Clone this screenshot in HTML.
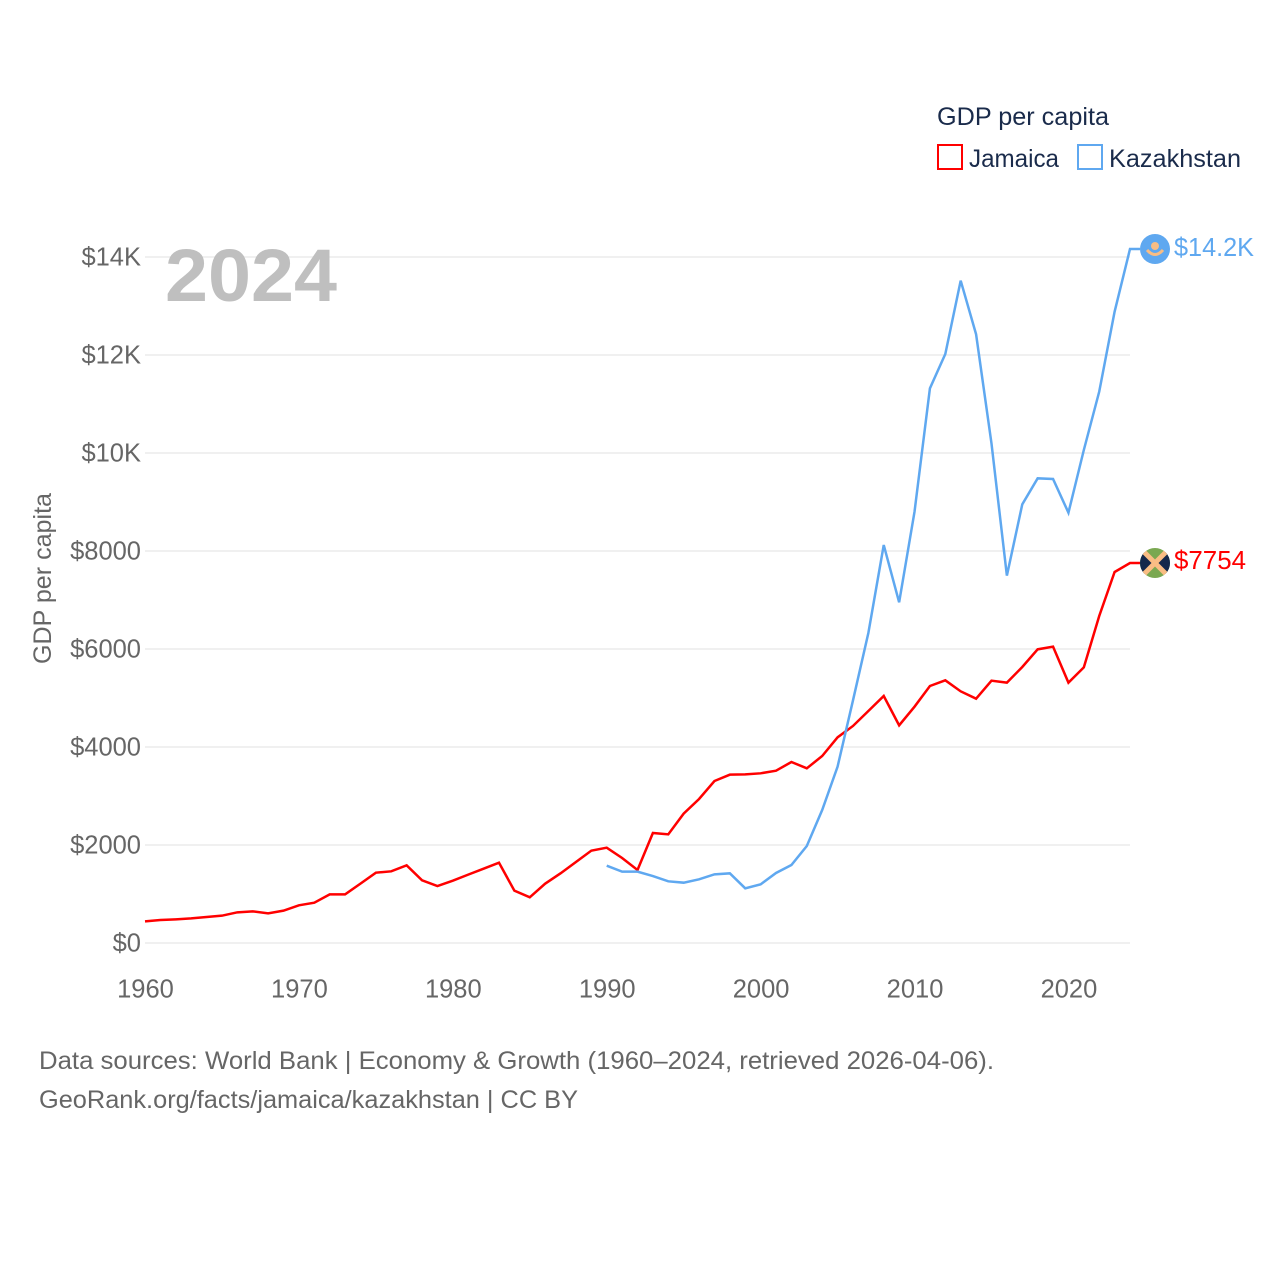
<!DOCTYPE html>
<html lang="en">
<head>
<meta charset="utf-8">
<title>GDP per capita: Jamaica and Kazakhstan</title>
<style>
html,body{margin:0;padding:0;background:#fff;width:1280px;height:1280px;overflow:hidden}
svg{display:block}
text{font-family:"Liberation Sans",sans-serif}
</style>
</head>
<body>
<svg id="chart" width="1280" height="1280" viewBox="0 0 1280 1280" xmlns="http://www.w3.org/2000/svg">
  <rect x="0" y="0" width="1280" height="1280" fill="#ffffff"/>
  <g id="grid"></g>
  <g id="yticks"></g>
  <g id="xticks"></g>
  <text x="165" y="301" font-size="74" font-weight="700" fill="#bfbfbf" textLength="172" lengthAdjust="spacingAndGlyphs">2024</text>
  <text transform="translate(51,664) rotate(-90)" font-size="25" fill="#666666" textLength="171" lengthAdjust="spacingAndGlyphs">GDP per capita</text>
  <g id="series"></g>

  <g>
    <circle cx="1155" cy="249" r="15" fill="#5fa8f0"/>
    <circle cx="1155" cy="246" r="4" fill="#f9bd84"/>
    <path d="M1147 250 Q1155 259 1163 250" fill="none" stroke="#f9bd84" stroke-width="3"/>
  </g>
  <g>
    <clipPath id="jm-clip"><circle cx="1155" cy="563" r="15"/></clipPath>
    <g clip-path="url(#jm-clip)">
      <rect x="1140" y="548" width="30" height="30" fill="#7aa851"/>
      <path d="M1140 548 L1155 563 L1140 578 Z M1170 548 L1155 563 L1170 578 Z" fill="#14284b"/>
      <path d="M1140 548 L1170 578 M1170 548 L1140 578" stroke="#f9bd84" stroke-width="5"/>
    </g>
  </g>
  <text x="1174" y="256" font-size="26" fill="#5fa8f0" textLength="80" lengthAdjust="spacingAndGlyphs">$14.2K</text>
  <text x="1174" y="569" font-size="26" fill="#ff0000" textLength="72" lengthAdjust="spacingAndGlyphs">$7754</text>

  <g>
    <text x="937" y="125" font-size="25" fill="#1a2b4b" textLength="172" lengthAdjust="spacingAndGlyphs">GDP per capita</text>
    <g>
      <rect x="938" y="145" width="24" height="24" fill="#ffffff" stroke="#ff0000" stroke-width="2"/>
      <text x="969" y="167" font-size="25" fill="#1a2b4b" textLength="90" lengthAdjust="spacingAndGlyphs">Jamaica</text>
    </g>
    <g>
      <rect x="1078" y="145" width="24" height="24" fill="#ffffff" stroke="#5fa8f0" stroke-width="2"/>
      <text x="1109" y="167" font-size="25" fill="#1a2b4b" textLength="132" lengthAdjust="spacingAndGlyphs">Kazakhstan</text>
    </g>
  </g>

  <text x="39" y="1069" font-size="25" fill="#666666" textLength="955" lengthAdjust="spacingAndGlyphs">Data sources: World Bank | Economy &amp; Growth (1960–2024, retrieved 2026-04-06).</text>
  <text x="39" y="1108" font-size="25" fill="#666666" textLength="539" lengthAdjust="spacingAndGlyphs">GeoRank.org/facts/jamaica/kazakhstan | CC BY</text>
</svg>
<script>
const yTickValues = [0, 2000, 4000, 6000, 8000, 10000, 12000, 14000];
const yTickLabels = ["$0", "$2000", "$4000", "$6000", "$8000", "$10K", "$12K", "$14K"];
const xTickYears = [1960, 1970, 1980, 1990, 2000, 2010, 2020];
const jamaicaStartYear = 1960;
const jamaicaValues = [442, 469, 483, 503, 531, 558, 626, 646, 605, 660, 769, 823, 993, 993, 1211, 1435, 1463, 1585, 1279, 1163, 1272, 1395, 1517, 1639, 1068, 932, 1211, 1422, 1653, 1884, 1946, 1735, 1490, 2245, 2218, 2640, 2939, 3306, 3435, 3442, 3463, 3517, 3694, 3565, 3816, 4197, 4429, 4735, 5041, 4442, 4823, 5245, 5361, 5136, 4986, 5354, 5313, 5633, 5993, 6048, 5313, 5626, 6673, 7571, 7754];
const kazakhstanStartYear = 1990;
const kazakhstanValues = [1578, 1456, 1456, 1367, 1259, 1231, 1299, 1401, 1422, 1116, 1197, 1429, 1592, 1980, 2714, 3599, 4950, 6327, 8122, 6952, 8803, 11320, 12020, 13517, 12422, 10197, 7497, 8952, 9483, 9469, 8782, 10061, 11252, 12884, 14163];

const NS = "http://www.w3.org/2000/svg";
const plotLeft = 145, plotRight = 1130, plotBottom = 943, plotTop = 257;
function xScale(year) { return plotLeft + (year - 1960) * (plotRight - plotLeft) / 64; }
function yScale(value) { return plotBottom - value * (plotBottom - plotTop) / 14000; }

const gridGroup = document.getElementById("grid");
const yTickGroup = document.getElementById("yticks");
const xTickGroup = document.getElementById("xticks");
const seriesGroup = document.getElementById("series");

yTickValues.forEach(function (value, i) {
  const line = document.createElementNS(NS, "line");
  
  
  line.setAttribute("x1", plotLeft);
  line.setAttribute("x2", plotRight);
  line.setAttribute("y1", yScale(value));
  line.setAttribute("y2", yScale(value));
  line.setAttribute("stroke", "#f0f0f0");
  line.setAttribute("stroke-width", "2");
  gridGroup.appendChild(line);

  const label = document.createElementNS(NS, "text");
  
  
  label.setAttribute("x", 141);
  label.setAttribute("y", yScale(value) + 8.5);
  label.setAttribute("text-anchor", "end");
  label.setAttribute("font-size", "25.5");
  label.setAttribute("fill", "#666666");
  label.textContent = yTickLabels[i];
  yTickGroup.appendChild(label);
});

xTickYears.forEach(function (year) {
  const label = document.createElementNS(NS, "text");
  
  
  label.setAttribute("x", xScale(year) + 0.5);
  label.setAttribute("y", 997.5);
  label.setAttribute("text-anchor", "middle");
  label.setAttribute("font-size", "25.5");
  label.setAttribute("fill", "#666666");
  label.textContent = String(year);
  xTickGroup.appendChild(label);
});

function linePoints(startYear, values) {
  const pts = values.map(function (v, i) {
    return xScale(startYear + i).toFixed(2) + "," + yScale(v).toFixed(2);
  });
  const last = values[values.length - 1];
  pts.push((plotRight + 10) + "," + yScale(last).toFixed(2));
  return pts.join(" ");
}

const kazakhstanLine = document.createElementNS(NS, "polyline");


kazakhstanLine.setAttribute("points", linePoints(kazakhstanStartYear, kazakhstanValues));
kazakhstanLine.setAttribute("fill", "none");
kazakhstanLine.setAttribute("stroke", "#5fa8f0");
kazakhstanLine.setAttribute("stroke-width", "2.5");
seriesGroup.appendChild(kazakhstanLine);

const jamaicaLine = document.createElementNS(NS, "polyline");


jamaicaLine.setAttribute("points", linePoints(jamaicaStartYear, jamaicaValues));
jamaicaLine.setAttribute("fill", "none");
jamaicaLine.setAttribute("stroke", "#ff0000");
jamaicaLine.setAttribute("stroke-width", "2.5");
seriesGroup.insertBefore(jamaicaLine, kazakhstanLine);
</script>
</body>
</html>
